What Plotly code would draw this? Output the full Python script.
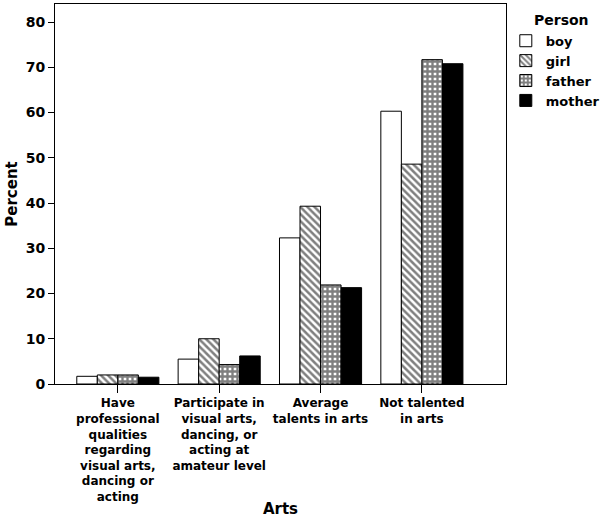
import plotly.graph_objects as go

categories = [
    "Have<br>professional<br>qualities<br>regarding<br>visual arts,<br>dancing or<br>acting",
    "Participate in<br>visual arts,<br>dancing, or<br>acting at<br>amateur level",
    "Average<br>talents in arts",
    "Not talented<br>in arts",
]
persons = ["boy", "girl", "father", "mother"]
boy = [1.7, 5.5, 32.3, 60.3]
girl = [2.0, 10.0, 39.3, 48.6]
father = [2.0, 4.3, 21.9, 71.7]
mother = [1.5, 6.2, 21.3, 70.8]

series = [boy, girl, father, mother]
# fill colour, pattern shape, pattern size, solidity for each person
styles = [
    ("white", "", 5, 0.5),
    ("white", "\\", 5, 0.5),
    ("white", "+", 5, 0.72),
    ("black", "", 5, 0.5),
]

fig = go.Figure()
for name, vals, (col, shape, psize, solid) in zip(persons, series, styles):
    fig.add_trace(go.Bar(
        x=categories, y=vals, name="<b>" + name + "</b>",
        marker=dict(
            color=col,
            line=dict(color="black", width=1),
            pattern=dict(shape=shape, fgcolor="black", bgcolor="white",
                         size=psize, solidity=solid,
                         fillmode="overlay") if shape else None,
        ),
    ))

fig.update_layout(
    barmode="group",
    bargap=0.19,
    bargroupgap=0,
    width=600, height=526,
    margin=dict(l=55, r=94, t=4, b=142, autoexpand=False),
    plot_bgcolor="white",
    paper_bgcolor="white",
    font=dict(family="DejaVu Sans", color="black"),
    legend=dict(
        xref="container", yref="container",
        x=0.843, y=0.951, xanchor="left", yanchor="top",
        font=dict(size=13, family="DejaVu Sans"), tracegroupgap=0,
        itemwidth=30, borderwidth=0, bgcolor="rgba(0,0,0,0)",
    ),
    xaxis=dict(
        type="category",
        range=[-0.62, 3.83],
        showline=True, linecolor="black", linewidth=1, mirror=True,
        ticks="outside", ticklen=8, tickcolor="black",
        tickangle=0, automargin=False,
        tickfont=dict(size=12),
        tickprefix="<b>", ticksuffix="</b>",
        showgrid=False,
        title=dict(text="<b>Arts</b>", font=dict(size=15), standoff=0),
    ),
    yaxis=dict(
        range=[0, 84],
        dtick=10, automargin=False,
        showline=True, linecolor="black", linewidth=1, mirror=True,
        ticks="outside", ticklen=6, tickcolor="black",
        tickfont=dict(size=14),
        tickprefix="<b>", ticksuffix="</b>",
        showgrid=False, zeroline=False,
        title=dict(text="<b>Percent</b>", font=dict(size=15), standoff=4),
    ),
    annotations=[dict(
        text="<b>Person</b>", xref="paper", yref="paper",
        x=1.122, y=0.958, xanchor="center", yanchor="middle",
        showarrow=False, font=dict(size=14),
    )],
)

# remove the browser's default page margin so the figure sits at 0,0
fig.write_html("out.html", config={"displayModeBar": False},
               post_script="document.body.style.margin='0';")
